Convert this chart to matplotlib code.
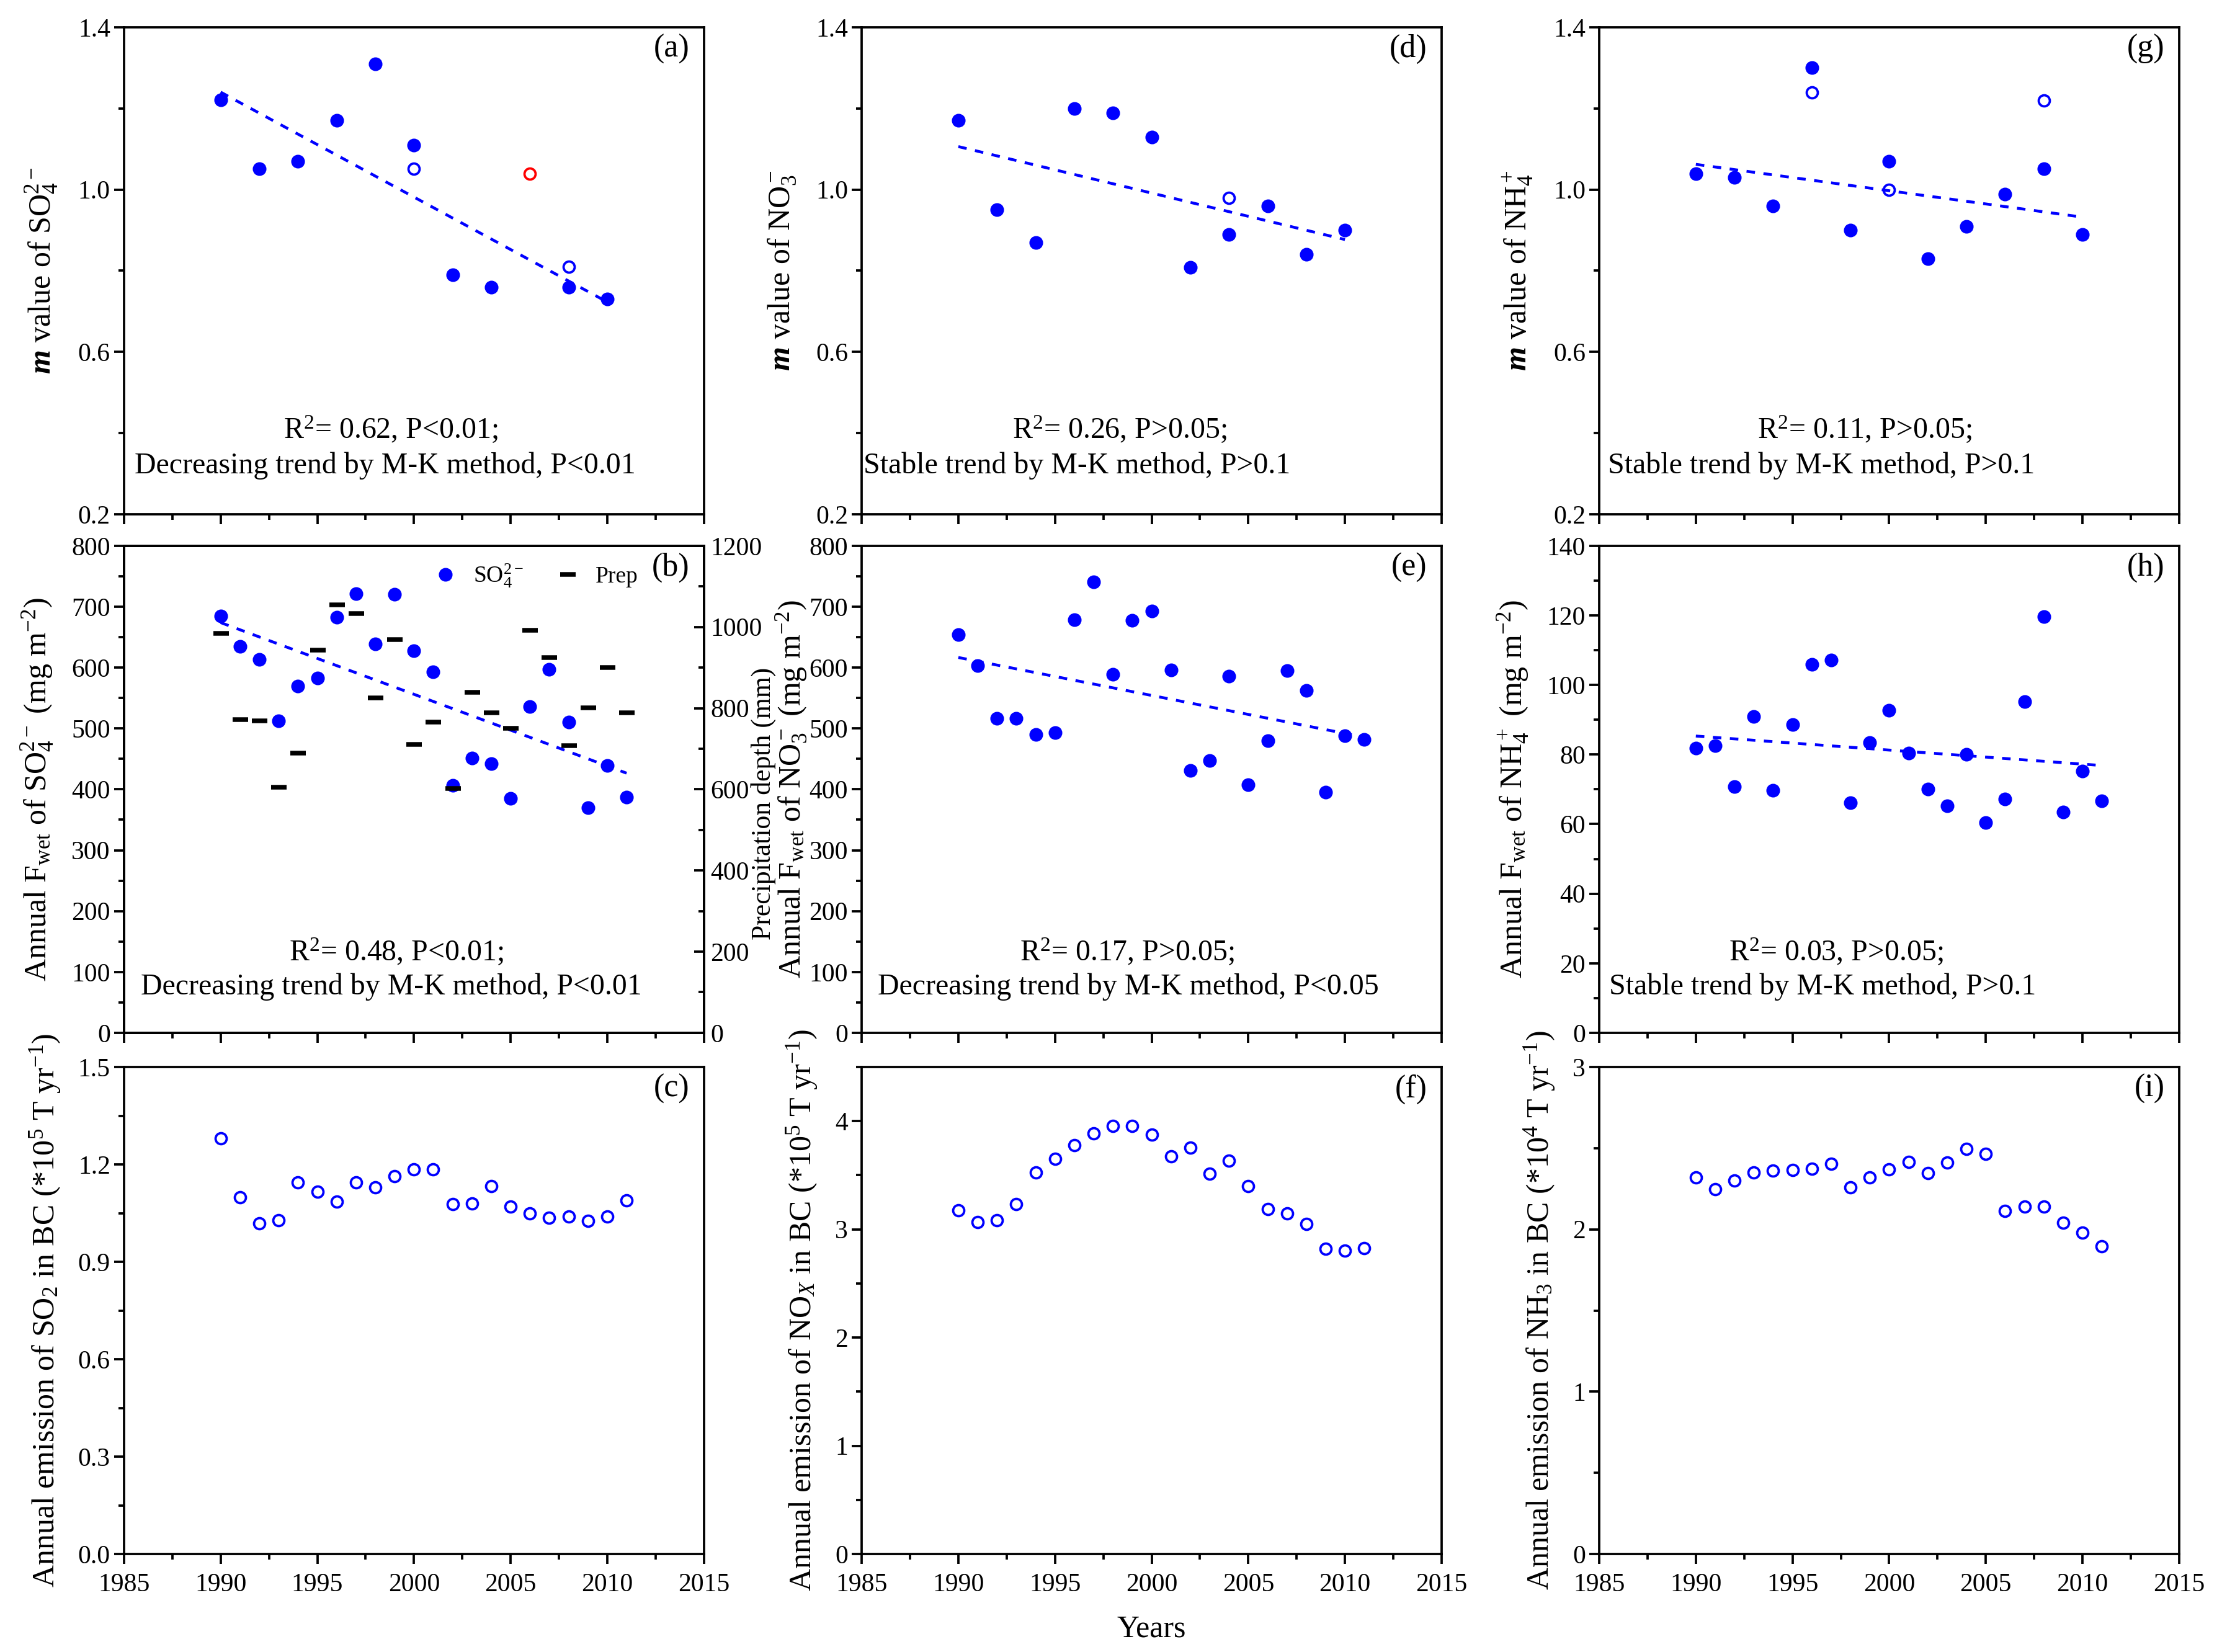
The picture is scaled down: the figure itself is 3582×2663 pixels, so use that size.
import numpy as np
import matplotlib
matplotlib.use("Agg")
import matplotlib.pyplot as plt
from matplotlib.ticker import MultipleLocator, FixedLocator, FormatStrFormatter
from matplotlib.lines import Line2D

plt.rcParams['font.family'] = ['Liberation Serif', 'DejaVu Serif']
plt.rcParams['mathtext.fontset'] = 'custom'
plt.rcParams['mathtext.rm'] = 'Liberation Serif'
plt.rcParams['mathtext.it'] = 'Liberation Serif:italic'
plt.rcParams['mathtext.bf'] = 'Liberation Serif:bold'
plt.rcParams['mathtext.bfit'] = 'Liberation Serif:italic:bold'

# ---------------- data ----------------
years_m = [1990, 1992, 1994, 1996, 1998, 2000, 2002, 2004, 2006, 2008, 2010]
years_a = [1990, 1992, 1994, 1996, 1998, 2000, 2002, 2004, 2008, 2010]
m_so4 = [1.221, 1.051, 1.070, 1.170, 1.309, 1.110, 0.790, 0.760, 0.760, 0.730]
m_so4_open_years = [2000, 2008]
m_so4_open = [1.051, 0.810]
m_so4_red_years = [2006]
m_so4_red = [1.039]

m_no3 = [1.170, 0.950, 0.870, 1.199, 1.189, 1.130, 0.809, 0.889, 0.960, 0.840, 0.900]
m_no3_open_years = [2004]
m_no3_open = [0.980]

m_nh4 = [1.039, 1.030, 0.960, 1.301, 0.900, 1.070, 0.830, 0.910, 0.989, 1.051, 0.889]
m_nh4_open_years = [1996, 2000, 2008]
m_nh4_open = [1.240, 1.000, 1.220]

years = list(range(1990, 2012))
fwet_so4 = [685, 635, 613, 512, 570, 583, 683, 721, 639, 720, 628,
            593, 406, 451, 442, 385, 536, 597, 510, 370, 439, 387]
prep = [984, 772, 768, 605, 689, 943, 1055, 1033, 825, 969, 710,
        765, 602, 839, 788, 751, 992, 924, 708, 801, 900, 789]
fwet_no3 = [654, 603, 517, 517, 490, 493, 679, 741, 589, 678, 693,
            596, 431, 447, 586, 408, 480, 595, 562, 395, 488, 482]
fwet_nh4 = [81.9, 82.6, 70.8, 90.9, 69.7, 88.7, 106.0, 107.1, 66.1, 83.5, 92.8,
            80.4, 70.1, 65.3, 80.1, 60.4, 67.2, 95.2, 119.6, 63.4, 75.3, 66.7]

emis_so2 = [1.281, 1.099, 1.018, 1.029, 1.144, 1.116, 1.086, 1.144, 1.130, 1.164, 1.184,
            1.184, 1.077, 1.079, 1.134, 1.071, 1.050, 1.035, 1.039, 1.027, 1.039, 1.090]
emis_nox = [3.178, 3.069, 3.086, 3.231, 3.524, 3.651, 3.778, 3.884, 3.954, 3.954, 3.877,
            3.675, 3.753, 3.517, 3.637, 3.397, 3.185, 3.150, 3.048, 2.822, 2.804, 2.829]
emis_nh3 = [2.321, 2.248, 2.300, 2.349, 2.361, 2.365, 2.375, 2.405, 2.260, 2.321, 2.368,
            2.417, 2.347, 2.410, 2.497, 2.464, 2.114, 2.142, 2.142, 2.041, 1.980, 1.897]

# ---------------- styling ----------------
BLUE = '#0000ff'
MS = 4.3
TICK_FS = 10
LAB_FS = 12
ANN_FS = 11.5

fig = plt.figure(figsize=(3582 / 300, 2663 / 300), dpi=300)

col_left = [0.0558, 0.3878, 0.7197]
row_bottom = [0.6887, 0.3748, 0.0593]
W, H = 0.2610, 0.2948


def make_ax(col, row):
    ax = fig.add_axes([col_left[col], row_bottom[row], W, H])
    ax.set_xlim(1985, 2015)
    ax.xaxis.set_major_locator(MultipleLocator(5))
    ax.xaxis.set_minor_locator(MultipleLocator(2.5))
    ax.tick_params(which='both', direction='out', top=False, right=False,
                   labelsize=TICK_FS, width=0.9)
    ax.tick_params(which='major', length=3.8)
    ax.tick_params(which='minor', length=2.2)
    ax.tick_params(axis='y', which='major', pad=1.5)
    if row < 2:
        ax.tick_params(axis='x', labelbottom=False)
    for sp in ax.spines.values():
        sp.set_linewidth(0.9)
    return ax


def trend(ax, x, y, x0, x1):
    k, b = np.polyfit(np.asarray(x, float), np.asarray(y, float), 1)
    xx = np.array([x0, x1], float)
    ax.plot(xx, k * xx + b, color=BLUE, lw=1.1, ls=(0, (3, 3)), zorder=2)


def filled(ax, x, y, **kw):
    return ax.plot(x, y, 'o', color=BLUE, ms=MS, mec=BLUE, zorder=3, **kw)[0]


def hollow(ax, x, y, color=BLUE):
    ax.plot(x, y, 'o', mfc='none', mec=color, ms=MS, mew=0.9, zorder=3)


def panel_tag(ax, s, y=0.955):
    ax.text(0.975, y, s, transform=ax.transAxes, ha='right', va='center', fontsize=12.5)


def annotate(ax, line1, line2, x1=0.46, x2=0.018, y1=0.175, y2=0.100):
    ax.text(x1, y1, line1, transform=ax.transAxes, ha='center', va='center', fontsize=ANN_FS)
    ax.text(x2, y2, line2, transform=ax.transAxes, ha='left', va='center', fontsize=ANN_FS)


def m_axis(ax):
    ax.set_ylim(0.2, 1.4)
    ax.yaxis.set_major_locator(FixedLocator([0.2, 0.6, 1.0, 1.4]))
    ax.yaxis.set_minor_locator(MultipleLocator(0.2))
    ax.yaxis.set_major_formatter(FormatStrFormatter('%.1f'))


# ---- (a)
ax = make_ax(0, 0)
m_axis(ax)
trend(ax, years_a, m_so4, 1990, 2010)
filled(ax, years_a, m_so4)
hollow(ax, m_so4_open_years, m_so4_open)
hollow(ax, m_so4_red_years, m_so4_red, color='red')
ax.set_ylabel(r"$\mathbfit{m}$ value of SO$_4^{2-}$", fontsize=LAB_FS, labelpad=7)
panel_tag(ax, "(a)")
annotate(ax, r"R$^2$= 0.62, P<0.01;", "Decreasing trend by M-K method, P<0.01")

# ---- (b)
ax = make_ax(0, 1)
ax.set_ylim(0, 800)
ax.yaxis.set_major_locator(MultipleLocator(100))
ax.yaxis.set_minor_locator(MultipleLocator(50))
trend(ax, years, fwet_so4, 1990, 2011)
filled(ax, years, fwet_so4)
ax.set_ylabel(r"Annual F$_{\rm wet}$ of SO$_4^{2-}$ (mg m$^{-2}$)", fontsize=LAB_FS, labelpad=6)
ax2 = ax.twinx()
ax2.set_ylim(0, 1200)
ax2.yaxis.set_major_locator(MultipleLocator(200))
ax2.yaxis.set_minor_locator(MultipleLocator(100))
ax2.tick_params(which='both', direction='in', labelsize=TICK_FS, width=0.9, pad=2.5)
ax2.tick_params(which='major', length=3.8)
ax2.tick_params(which='minor', length=2.2)
for sp in ax2.spines.values():
    sp.set_linewidth(0.9)
ax2.plot(years, prep, '_', color='black', ms=6, mew=1.8, zorder=3)
ax2.set_ylabel("Precipitation depth (mm)", fontsize=10.5)
ax2.yaxis.set_label_coords(1.080, 0.47)
lh1 = Line2D([], [], ls='none', marker='o', color=BLUE, ms=MS)
lh2 = Line2D([], [], ls='none', marker='_', color='black', ms=6, mew=1.8)
ax2.legend([lh1, lh2], [r"SO$_4^{2-}$", "Prep"], ncol=2, loc='upper right',
           bbox_to_anchor=(0.915, 1.0), frameon=False, fontsize=9,
           handlelength=1.2, handletextpad=0.6, columnspacing=1.3, borderaxespad=0.3)
panel_tag(ax2, "(b)")
annotate(ax, r"R$^2$= 0.48, P<0.01;", "Decreasing trend by M-K method, P<0.01",
         x1=0.47, x2=0.029, y1=0.167, y2=0.095)

# ---- (c)
ax = make_ax(0, 2)
ax.set_ylim(0, 1.5)
ax.yaxis.set_major_locator(MultipleLocator(0.3))
ax.yaxis.set_minor_locator(MultipleLocator(0.15))
ax.yaxis.set_major_formatter(FormatStrFormatter('%.1f'))
hollow(ax, years, emis_so2)
ax.set_ylabel(r"Annual emission of SO$_2$ in BC (*10$^5$ T yr$^{-1}$)", fontsize=LAB_FS, labelpad=6)
panel_tag(ax, "(c)")

# ---- (d)
ax = make_ax(1, 0)
m_axis(ax)
trend(ax, years_m, m_no3, 1990, 2010)
filled(ax, years_m, m_no3)
hollow(ax, m_no3_open_years, m_no3_open)
ax.set_ylabel(r"$\mathbfit{m}$ value of NO$_3^-$", fontsize=LAB_FS, labelpad=7)
panel_tag(ax, "(d)")
annotate(ax, r"R$^2$= 0.26, P>0.05;", "Stable trend by M-K method, P>0.1",
         x1=0.445, x2=0.003)

# ---- (e)
ax = make_ax(1, 1)
ax.set_ylim(0, 800)
ax.yaxis.set_major_locator(MultipleLocator(100))
ax.yaxis.set_minor_locator(MultipleLocator(50))
trend(ax, years, fwet_no3, 1990, 2011)
filled(ax, years, fwet_no3)
ax.set_ylabel(r"Annual F$_{\rm wet}$ of NO$_3^-$ (mg m$^{-2}$)", fontsize=LAB_FS, labelpad=0)
panel_tag(ax, "(e)")
annotate(ax, r"R$^2$= 0.17, P>0.05;", "Decreasing trend by M-K method, P<0.05",
         x1=0.458, x2=0.028, y1=0.167, y2=0.095)

# ---- (f)
ax = make_ax(1, 2)
ax.set_ylim(0, 4.5)
ax.yaxis.set_major_locator(MultipleLocator(1))
ax.yaxis.set_minor_locator(MultipleLocator(0.5))
hollow(ax, years, emis_nox)
ax.set_ylabel(r"Annual emission of NO$_X$ in BC (*10$^5$ T yr$^{-1}$)", fontsize=LAB_FS, labelpad=6)
ax.set_xlabel("Years", fontsize=LAB_FS, labelpad=7)
panel_tag(ax, "(f)")

# ---- (g)
ax = make_ax(2, 0)
m_axis(ax)
trend(ax, years_m, m_nh4, 1990, 2010)
filled(ax, years_m, m_nh4)
hollow(ax, m_nh4_open_years, m_nh4_open)
ax.set_ylabel(r"$\mathbfit{m}$ value of NH$_4^+$", fontsize=LAB_FS, labelpad=7)
panel_tag(ax, "(g)")
annotate(ax, r"R$^2$= 0.11, P>0.05;", "Stable trend by M-K method, P>0.1",
         x1=0.458, x2=0.015)

# ---- (h)
ax = make_ax(2, 1)
ax.set_ylim(0, 140)
ax.yaxis.set_major_locator(MultipleLocator(20))
ax.yaxis.set_minor_locator(MultipleLocator(10))
trend(ax, years, fwet_nh4, 1990, 2011)
filled(ax, years, fwet_nh4)
ax.set_ylabel(r"Annual F$_{\rm wet}$ of NH$_4^+$ (mg m$^{-2}$)", fontsize=LAB_FS, labelpad=6)
panel_tag(ax, "(h)")
annotate(ax, r"R$^2$= 0.03, P>0.05;", "Stable trend by M-K method, P>0.1",
         x1=0.409, x2=0.017, y1=0.167, y2=0.095)

# ---- (i)
ax = make_ax(2, 2)
ax.set_ylim(0, 3)
ax.yaxis.set_major_locator(MultipleLocator(1))
ax.yaxis.set_minor_locator(MultipleLocator(0.5))
hollow(ax, years, emis_nh3)
ax.set_ylabel(r"Annual emission of NH$_3$ in BC (*10$^4$ T yr$^{-1}$)", fontsize=LAB_FS, labelpad=6)
panel_tag(ax, "(i)")

fig.savefig("out.png", dpi=300)
